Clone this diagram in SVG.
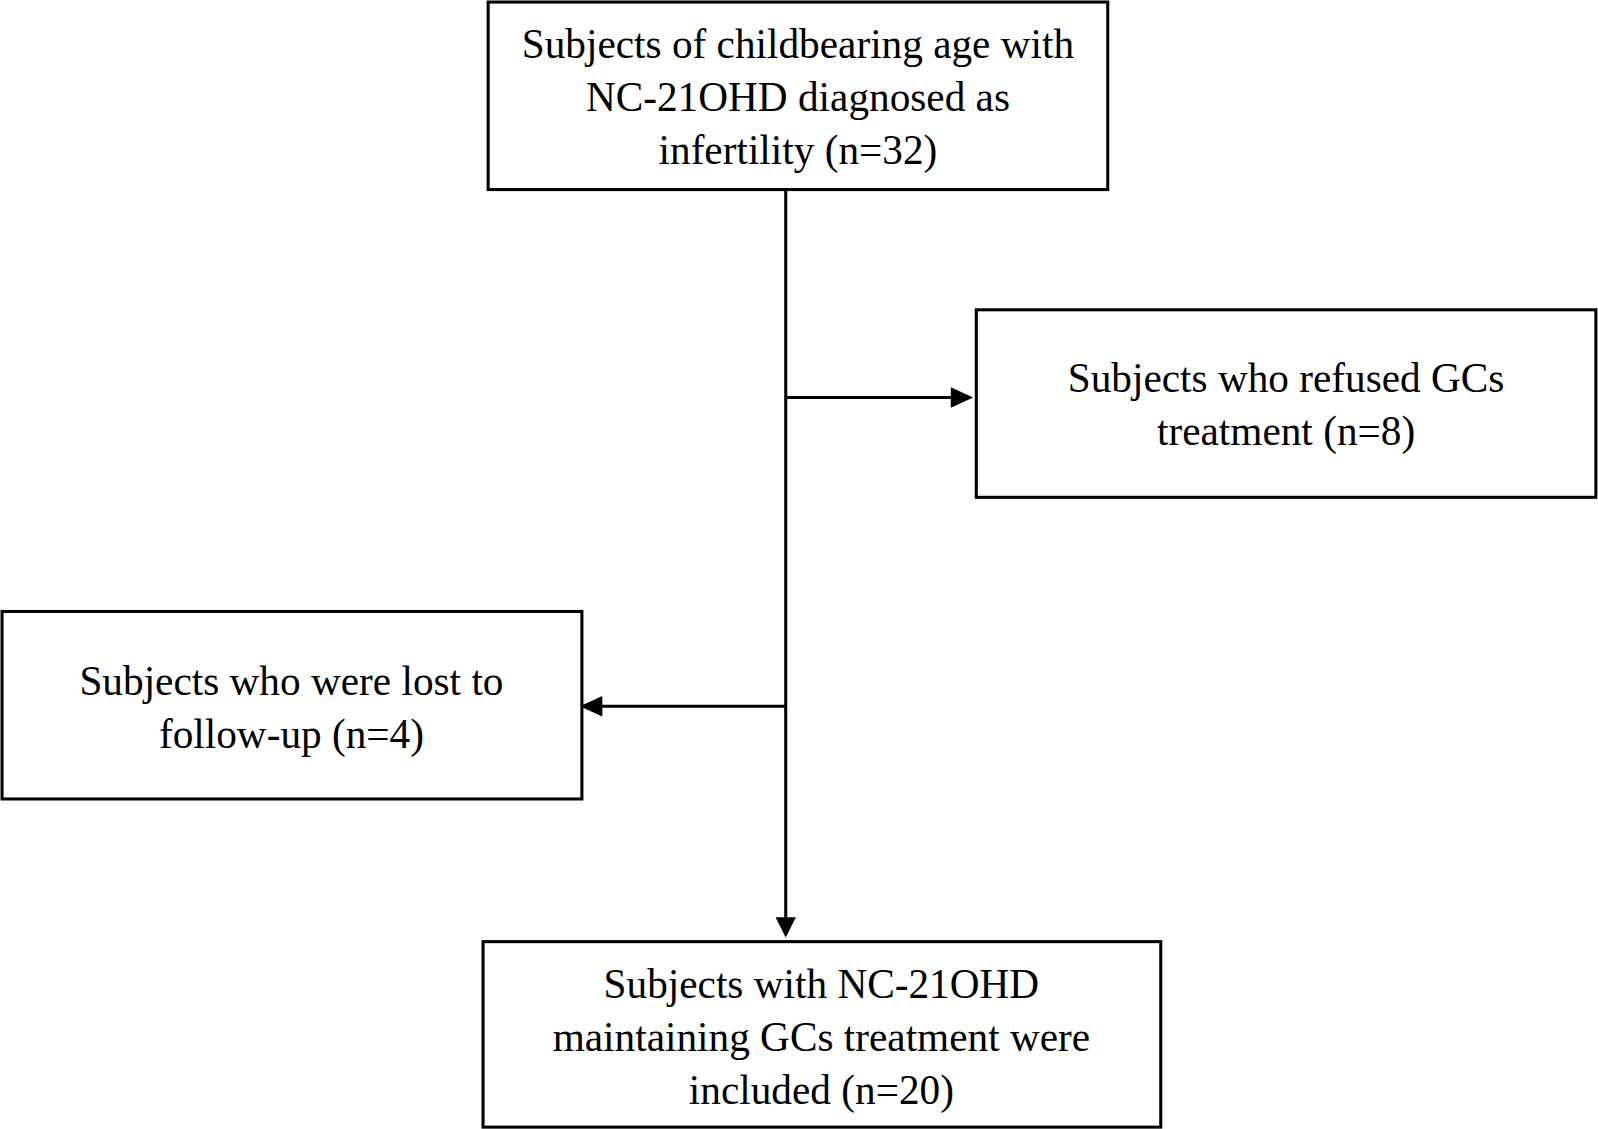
<svg xmlns="http://www.w3.org/2000/svg" width="1598" height="1129" viewBox="0 0 1598 1129">
<style>
.b{fill:#fff;stroke:#000;stroke-width:3}
.t{font-family:"Liberation Serif",serif;font-size:40.5px;text-anchor:middle;fill:#000}
.c{stroke:#000;stroke-width:3;fill:none}
</style>
<rect width="1598" height="1129" fill="#fff"/>
<g transform="scale(1.0191)">
<g id="connectors">
<line class="c" x1="771" y1="186" x2="771" y2="902"/>
<path d="M761,900L771,920L781,900z"/>
<line class="c" x1="771" y1="390" x2="935" y2="390"/>
<path d="M933,380L955,390L933,400z"/>
<line class="c" x1="771" y1="693" x2="590" y2="693"/>
<path d="M591,683L569,693L591,703z"/>
</g>
<g id="n1"><rect class="b" x="479" y="2" width="608" height="184"/>
<text class="t" x="783" y="57">Subjects of childbearing age with</text>
<text class="t" x="783" y="109">NC-21OHD diagnosed as</text>
<text class="t" x="783" y="161">infertility (n=32)</text></g>
<g id="n2"><rect class="b" x="958" y="304" width="608" height="184"/>
<text class="t" x="1262" y="385">Subjects who refused GCs</text>
<text class="t" x="1262" y="437">treatment (n=8)</text></g>
<g id="n3"><rect class="b" x="2" y="600" width="569" height="184"/>
<text class="t" x="286" y="682">Subjects who were lost to</text>
<text class="t" x="286" y="734">follow-up (n=4)</text></g>
<g id="n4"><rect class="b" x="474" y="924" width="665" height="182"/>
<text class="t" x="806" y="979">Subjects with NC-21OHD</text>
<text class="t" x="806" y="1031">maintaining GCs treatment were</text>
<text class="t" x="806" y="1083">included (n=20)</text></g>
</g>
</svg>
